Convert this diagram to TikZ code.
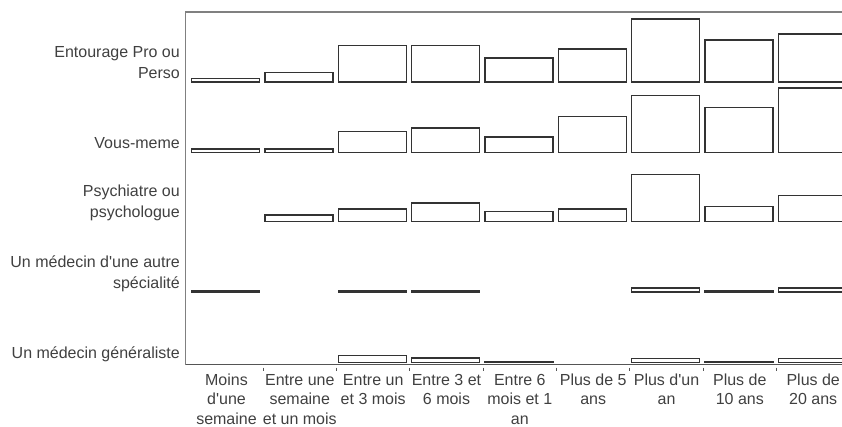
\documentclass[tikz,border=0pt]{standalone}
\usepackage{fontspec}
\newfontfamily\labfont{Liberation Sans}
\definecolor{txt}{HTML}{404040}
\definecolor{barline}{HTML}{333333}
\definecolor{axisgray}{HTML}{808080}
\definecolor{axisdark}{HTML}{555555}
\begin{document}
\begin{tikzpicture}[x=1pt,y=-1pt,
  bar/.style={draw=barline, line width=1.4pt, fill=white},
  rowlab/.style={font=\labfont\fontsize{16}{21}\selectfont, text=txt, align=right, anchor=south east, inner sep=0pt},
  collab/.style={font=\labfont\fontsize{16}{19.8}\selectfont, text=txt, align=center, anchor=north, inner sep=0pt},
  axisline/.style={draw=axisgray, line width=1.4pt},
  axisbottom/.style={draw=axisdark, line width=1.4pt},
  tickmark/.style={draw=axisdark, line width=1pt}]
\useasboundingbox (0,0) rectangle (842,427);
\clip (0,0) rectangle (842,427);

% axes
\coordinate (tl) at (185.5,12);
\coordinate (bl) at (185.5,364.5);
\coordinate (tr) at (843,12);
\coordinate (br) at (843,364.5);
\draw[axisline] (tr) -- (tl) -- (bl);
\draw[axisbottom] (bl) -- (br);
\foreach \k in {0,...,7}
  \draw[tickmark] ({263.3+73.333*\k},367.5) -- ({263.3+73.333*\k},370.5);

% bars
\foreach \b/\hs in {82/{3.2,9.5,36.2,36.2,23.8,32.8,62.8,41.8,47.8},
                    152.6/{3.5,3.5,21.2,24.5,15.5,36.2,57.2,45.2,64.5},
                    221.3/{0,6.2,12.2,18.2,9.5,12.2,46.8,14.8,25.8},
                    292/{1,0,1,1,0,0,4,1,4},
                    362.5/{0,0,6.8,4.5,1,0,4,1,4}}{
  \foreach \h [count=\i] in \hs {
    \ifdim \h pt>0pt
      \draw[bar] ({191.7+73.333*(\i-1)},\b) rectangle ++(68,-\h);
    \fi
  }
}

% row labels
\node[rowlab] (r1) at (180,84.8) {Entourage Pro ou\\Perso\strut};
\node[rowlab] (r2) at (180,155.4) {Vous-meme\strut};
\node[rowlab] (r3) at (180,224.1) {Psychiatre ou\\psychologue\strut};
\node[rowlab] (r4) at (180,294.8) {Un médecin d'une autre\\spécialité\strut};
\node[rowlab] (r5) at (180,365.3) {Un médecin généraliste\strut};

% column labels
\node[collab] (c1) at (226.5,371) {\strut Moins\\d'une\\semaine};
\node[collab] (c2) at (299.8,371) {\strut Entre une\\semaine\\et un mois};
\node[collab] (c3) at (373.2,371) {\strut Entre un\\et 3 mois};
\node[collab] (c4) at (446.5,371) {\strut Entre 3 et\\6 mois};
\node[collab] (c5) at (519.8,371) {\strut Entre 6\\mois et 1\\an};
\node[collab] (c6) at (593.2,371) {\strut Plus de 5\\ans};
\node[collab] (c7) at (666.5,371) {\strut Plus d'un\\an};
\node[collab] (c8) at (739.8,371) {\strut Plus de\\10 ans};
\node[collab] (c9) at (813.2,371) {\strut Plus de\\20 ans};
\end{tikzpicture}
\end{document}
